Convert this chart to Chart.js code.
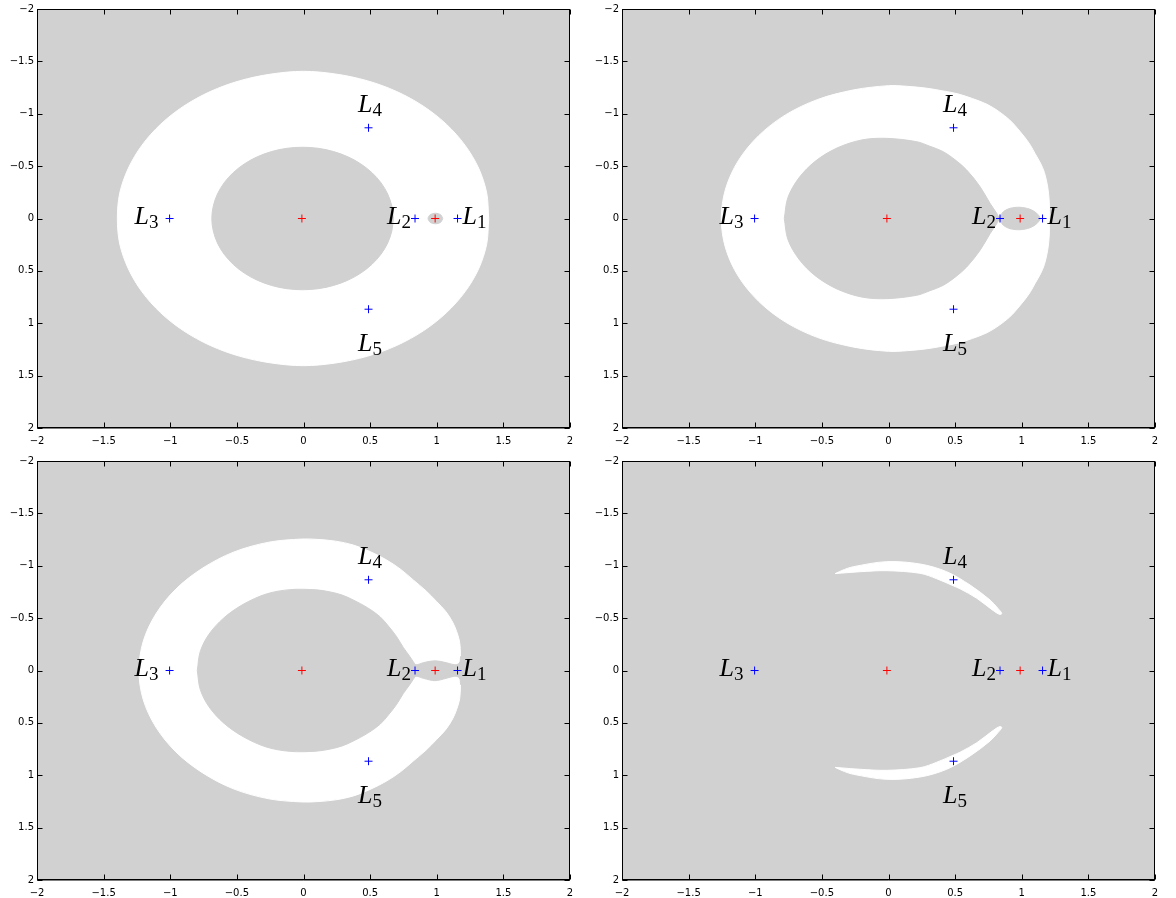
<!DOCTYPE html>
<html><head><meta charset="utf-8">
<script src="https://cdn.jsdelivr.net/npm/chart.js@4/dist/chart.umd.min.js"></script>
<style>
html,body{margin:0;padding:0;background:#fff;overflow:hidden;width:1176px;height:898px}
canvas{position:absolute}
</style></head><body>
<canvas id="c1" width="588" height="450" style="left:0;top:0"></canvas>
<canvas id="c2" width="588" height="450" style="left:585px;top:0"></canvas>
<canvas id="c3" width="588" height="446" style="left:0;top:452px"></canvas>
<canvas id="c4" width="588" height="446" style="left:585px;top:452px"></canvas>
<script>
// ---------- data ----------
const tickValues = [-2, -1.5, -1, -0.5, 0, 0.5, 1, 1.5, 2];
const primaryX = [-0.012, 0.988];
const primaryY = [0, 0];
const lagrangeNames = ['1', '2', '3', '4', '5'];
const lagrangeX = [1.156, 0.837, -1.005, 0.488, 0.488];
const lagrangeY = [0, 0, 0, -0.866, 0.866];

// panel 1 (white ring, gray inner disc, gray bubble round second primary)
const p1Outer = [[1.39,0],[1.375,-0.243],[1.315,-0.479],[1.212,-0.70],[1.072,-0.90],[0.90,-1.072],[0.70,-1.212],[0.479,-1.315],[0.243,-1.379],[0,-1.405],[-0.243,-1.379],[-0.479,-1.315],[-0.70,-1.212],[-0.90,-1.072],[-1.072,-0.90],[-1.212,-0.70],[-1.315,-0.479],[-1.379,-0.243],[-1.397,0],[-1.379,0.243],[-1.315,0.479],[-1.212,0.70],[-1.072,0.90],[-0.90,1.072],[-0.70,1.212],[-0.479,1.315],[-0.243,1.379],[0,1.405],[0.243,1.379],[0.479,1.315],[0.70,1.212],[0.90,1.072],[1.072,0.90],[1.212,0.70],[1.315,0.479],[1.375,0.243],[1.39,0]];
const p1Inner = [[0.674,0],[0.663,-0.118],[0.632,-0.233],[0.582,-0.34],[0.514,-0.437],[0.43,-0.521],[0.333,-0.589],[0.226,-0.639],[0.111,-0.67],[-0.007,-0.68],[-0.125,-0.67],[-0.24,-0.639],[-0.347,-0.589],[-0.444,-0.521],[-0.528,-0.437],[-0.596,-0.34],[-0.646,-0.233],[-0.677,-0.118],[-0.688,0],[-0.677,0.118],[-0.646,0.233],[-0.596,0.34],[-0.528,0.437],[-0.444,0.521],[-0.347,0.589],[-0.24,0.639],[-0.125,0.67],[-0.007,0.68],[0.111,0.67],[0.226,0.639],[0.333,0.589],[0.43,0.521],[0.514,0.437],[0.582,0.34],[0.632,0.233],[0.663,0.118],[0.674,0]];
const p1Bubble = [[1.045,0],[1.03,-0.035],[0.99,-0.05],[0.95,-0.035],[0.935,0],[0.95,0.035],[0.99,0.05],[1.03,0.035],[1.045,0]];

// panel 2
const p2Outer = [[1.207,0],[1.207,-0.15],[1.195,-0.30],[1.17,-0.44],[1.14,-0.53],[1.10,-0.62],[1.065,-0.70],[1.02,-0.78],[0.967,-0.862],[0.91,-0.94],[0.83,-1.02],[0.74,-1.09],[0.63,-1.145],[0.52,-1.19],[0.40,-1.22],[0.28,-1.245],[0.14,-1.262],[0,-1.268],[-0.26,-1.228],[-0.53,-1.137],[-0.773,-0.989],[-0.975,-0.79],[-1.128,-0.55],[-1.223,-0.282],[-1.255,0],[-1.223,0.282],[-1.128,0.55],[-0.975,0.79],[-0.773,0.989],[-0.53,1.137],[-0.26,1.228],[0,1.268],[0.14,1.262],[0.28,1.245],[0.40,1.22],[0.52,1.19],[0.63,1.145],[0.74,1.09],[0.83,1.02],[0.91,0.94],[0.967,0.862],[1.02,0.78],[1.065,0.70],[1.10,0.62],[1.14,0.53],[1.17,0.44],[1.195,0.30],[1.207,0.15],[1.207,0]];
const p2Inner = [[-0.782,0],[-0.755,-0.20],[-0.672,-0.388],[-0.548,-0.548],[-0.388,-0.672],[-0.20,-0.75],[-0.014,-0.765],[0.212,-0.733],[0.31,-0.69],[0.411,-0.638],[0.50,-0.56],[0.587,-0.463],[0.687,-0.304],[0.762,-0.145],[0.812,-0.05],[0.832,-0.012],[0.862,-0.065],[0.912,-0.097],[0.987,-0.107],[1.062,-0.088],[1.112,-0.05],[1.137,0],[1.112,0.05],[1.062,0.088],[0.987,0.107],[0.912,0.097],[0.862,0.065],[0.832,0.012],[0.812,0.05],[0.762,0.145],[0.687,0.304],[0.587,0.463],[0.50,0.56],[0.411,0.638],[0.31,0.69],[0.212,0.733],[-0.014,0.765],[-0.20,0.75],[-0.388,0.672],[-0.548,0.548],[-0.672,0.388],[-0.755,0.20],[-0.782,0]];

// panel 3
const p3Outer = [[1.18,0],[1.178,-0.15],[1.172,-0.27],[1.15,-0.37],[1.12,-0.46],[1.07,-0.56],[1.0,-0.657],[0.92,-0.76],[0.824,-0.864],[0.73,-0.965],[0.624,-1.055],[0.50,-1.135],[0.374,-1.198],[0.24,-1.235],[0.1,-1.252],[-0.014,-1.255],[-0.26,-1.225],[-0.525,-1.13],[-0.76,-0.975],[-0.958,-0.777],[-1.108,-0.54],[-1.203,-0.278],[-1.235,0],[-1.203,0.278],[-1.108,0.54],[-0.958,0.777],[-0.76,0.975],[-0.525,1.13],[-0.26,1.225],[-0.014,1.255],[0.1,1.252],[0.24,1.235],[0.374,1.198],[0.50,1.135],[0.624,1.055],[0.73,0.965],[0.824,0.864],[0.92,0.76],[1.0,0.657],[1.07,0.56],[1.12,0.46],[1.15,0.37],[1.172,0.27],[1.178,0.15],[1.18,0]];
const p3Inner = [[-0.797,0],[-0.775,-0.18],[-0.71,-0.345],[-0.60,-0.50],[-0.455,-0.63],[-0.28,-0.73],[-0.1,-0.772],[0.095,-0.77],[0.2,-0.75],[0.29,-0.72],[0.374,-0.673],[0.48,-0.60],[0.574,-0.514],[0.64,-0.42],[0.699,-0.323],[0.749,-0.22],[0.799,-0.132],[0.824,-0.084],[0.845,-0.055],[0.9,-0.075],[0.987,-0.092],[1.07,-0.075],[1.13,-0.055],[1.16,-0.06],[1.175,-0.085],[1.185,-0.14],[1.3,-0.14],[1.3,0.14],[1.185,0.14],[1.175,0.085],[1.16,0.06],[1.13,0.055],[1.07,0.075],[0.987,0.097],[0.9,0.075],[0.845,0.055],[0.824,0.084],[0.799,0.132],[0.749,0.22],[0.699,0.323],[0.64,0.42],[0.574,0.514],[0.48,0.60],[0.374,0.673],[0.29,0.72],[0.2,0.75],[0.095,0.77],[-0.1,0.772],[-0.28,0.73],[-0.455,0.63],[-0.60,0.50],[-0.71,0.345],[-0.775,0.18],[-0.797,0]];

// panel 4 (two crescents)
const p4Upper = [[-0.40,-0.925],[-0.33,-0.965],[-0.264,-0.991],[-0.014,-1.039],[0.236,-1.017],[0.437,-0.943],[0.612,-0.816],[0.762,-0.673],[0.82,-0.595],[0.85,-0.545],[0.835,-0.535],[0.787,-0.571],[0.662,-0.69],[0.537,-0.78],[0.487,-0.808],[0.362,-0.876],[0.236,-0.928],[-0.014,-0.953],[-0.214,-0.943],[-0.35,-0.93],[-0.40,-0.925]];
const p4Lower = [[-0.40,0.925],[-0.33,0.965],[-0.264,0.991],[-0.014,1.039],[0.236,1.017],[0.437,0.943],[0.612,0.816],[0.762,0.673],[0.82,0.595],[0.85,0.545],[0.835,0.535],[0.787,0.571],[0.662,0.69],[0.537,0.78],[0.487,0.808],[0.362,0.876],[0.236,0.928],[-0.014,0.953],[-0.214,0.943],[-0.35,0.93],[-0.40,0.925]];

// ---------- styles ----------
const GRAY = '#d1d1d1';
const WHITE = '#ffffff';
const labelStyle = {
  '1': {dx: 5, dy: 5.5, align: 'left'},
  '2': {dx: -4, dy: 5.5, align: 'right'},
  '3': {dx: -11, dy: 5.5, align: 'right'},
  '4': {dx: 1.5, dy: -16, align: 'center'},
  '5': {dx: 1.5, dy: 42, align: 'center'}
};

function region(pts, color, order) {
  return {
    data: pts.map(([x, y]) => ({x, y})),
    showLine: true, fill: 'shape', tension: 0.33,
    backgroundColor: color, borderColor: color, borderWidth: 1,
    pointRadius: 0, pointHoverRadius: 0, order: order
  };
}
function markers(xs, ys, color) {
  return {
    data: xs.map((x, i) => ({x, y: ys[i]})),
    showLine: false, pointStyle: 'cross', pointRadius: 4, pointHoverRadius: 4,
    borderColor: color, backgroundColor: color, borderWidth: 1, order: 0
  };
}

const bgPlugin = {
  id: 'bg',
  beforeDraw(chart) {
    const {ctx, chartArea: a} = chart;
    ctx.save();
    ctx.fillStyle = '#fff';
    ctx.fillRect(0, 0, chart.width, chart.height);
    ctx.fillStyle = GRAY;
    ctx.fillRect(a.left, a.top, a.right - a.left, a.bottom - a.top);
    ctx.restore();
  }
};
const framePlugin = {
  id: 'frame',
  afterDraw(chart) {
    const {ctx, chartArea: a, scales} = chart;
    ctx.save();
    ctx.strokeStyle = '#000';
    ctx.lineWidth = 1;
    const L = Math.round(a.left) + 0.5, R = Math.round(a.right) - 0.5;
    const T = Math.round(a.top) + 0.5, B = Math.round(a.bottom) - 0.5;
    ctx.strokeRect(L, T, R - L, B - T);
    ctx.beginPath();
    ctx.moveTo(L - 0.5, B + 0.5); ctx.lineTo(R + 0.5, B + 0.5);
    ctx.stroke();
    ctx.beginPath();
    tickValues.forEach(v => {
      const px = Math.round(scales.x.getPixelForValue(v)) + 0.5;
      ctx.moveTo(px, B); ctx.lineTo(px, B - 5);
      ctx.moveTo(px, T); ctx.lineTo(px, T + 5);
      const py = Math.round(scales.y.getPixelForValue(v)) + 0.5;
      ctx.moveTo(L, py); ctx.lineTo(L + 5, py);
      ctx.moveTo(R, py); ctx.lineTo(R - 5, py);
    });
    ctx.stroke();
    ctx.restore();
  }
};
const labelPlugin = {
  id: 'lbl',
  afterDatasetsDraw(chart) {
    const {ctx, scales} = chart;
    ctx.save();
    ctx.fillStyle = '#000';
    ctx.textBaseline = 'alphabetic';
    ctx.textAlign = 'left';
    const mainFont = 'italic 26px "Liberation Serif", "DejaVu Serif", serif';
    const subFont = '19px "Liberation Serif", "DejaVu Serif", serif';
    lagrangeNames.forEach((n, i) => {
      const st = labelStyle[n];
      const px = scales.x.getPixelForValue(lagrangeX[i]);
      const py = scales.y.getPixelForValue(lagrangeY[i]);
      ctx.font = mainFont;
      const wL = ctx.measureText('L').width;
      ctx.font = subFont;
      const wS = ctx.measureText(n).width;
      const total = wL + wS;
      let sx = px + st.dx;
      if (st.align === 'right') sx -= total;
      else if (st.align === 'center') sx -= total / 2;
      const by = py + st.dy;
      ctx.font = mainFont;
      ctx.fillText('L', sx, by);
      ctx.font = subFont;
      ctx.fillText(n, sx + wL, by + 4);
    });
    ctx.restore();
  }
};

function axisOpts(isX, size) {
  return {
    type: 'linear', min: -2, max: 2, reverse: !isX,
    grid: {display: false, drawTicks: false},
    border: {display: false},
    afterBuildTicks(scale) { scale.ticks = tickValues.map(v => ({value: v})); },
    afterFit(scale) { if (isX) scale.height = size; else scale.width = size; },
    ticks: {
      autoSkip: false, maxRotation: 0, color: '#000',
      padding: isX ? 7 : 3,
      font: {family: '"DejaVu Sans", "Liberation Sans", sans-serif', size: 10},
      callback: v => String(v).replace('-', '\u2212')
    }
  };
}

function makeChart(id, regions, axisH) {
  const datasets = regions.concat([
    markers(lagrangeX, lagrangeY, '#0000ff'),
    markers(primaryX, primaryY, '#ff0000')
  ]);
  return new Chart(document.getElementById(id), {
    type: 'scatter',
    data: {datasets},
    options: {
      responsive: false, animation: false, devicePixelRatio: 1,
      layout: {padding: {top: 9, right: 18, left: 0, bottom: 0}},
      plugins: {legend: {display: false}, tooltip: {enabled: false}},
      events: [],
      scales: {x: axisOpts(true, axisH), y: axisOpts(false, 37)}
    },
    plugins: [bgPlugin, labelPlugin, framePlugin]
  });
}

makeChart('c1', [region(p1Outer, WHITE, 5), region(p1Inner, GRAY, 4), region(p1Bubble, GRAY, 3)], 22);
makeChart('c2', [region(p2Outer, WHITE, 5), region(p2Inner, GRAY, 4)], 22);
makeChart('c3', [region(p3Outer, WHITE, 5), region(p3Inner, GRAY, 4)], 18);
makeChart('c4', [region(p4Upper, WHITE, 5), region(p4Lower, WHITE, 5)], 18);
</script>
</body></html>
